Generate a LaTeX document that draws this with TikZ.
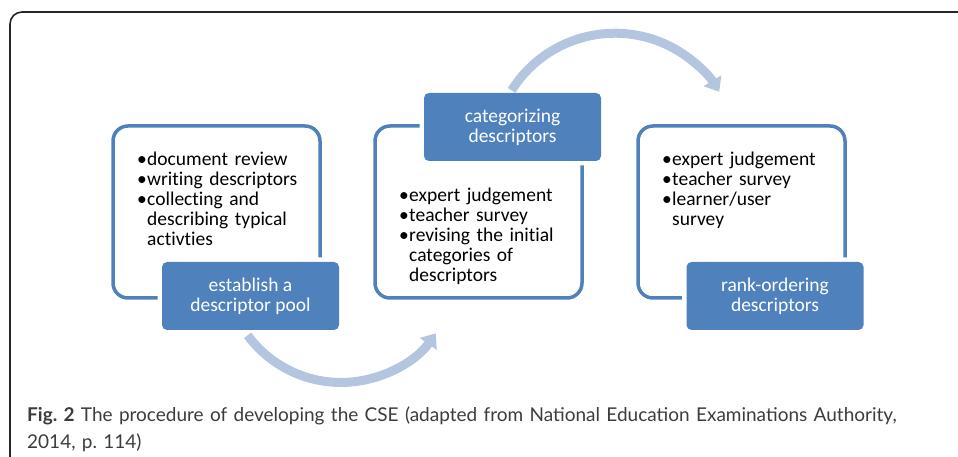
\documentclass[tikz,border=0pt]{standalone}
\usepackage{fontspec}
\setmainfont[Ligatures=NoCommon]{Carlito}
\newfontfamily\capfont{Lato}
\usetikzlibrary{arrows.meta}

\definecolor{smartblue}{RGB}{79,129,189}
\definecolor{arcblue}{RGB}{180,197,224}
\definecolor{capgray}{RGB}{60,60,60}

% one bullet line, wrapped lines hang under the text
\newcommand{\itm}[1]{\hangindent=10pt\hangafter=1\noindent\makebox[10pt][l]{\textbullet}#1\par}

\begin{document}
\frenchspacing
\begin{tikzpicture}[x=1pt,y=1pt,
  panel/.style={rectangle, draw=smartblue, line width=3.5pt, rounded corners=15pt, minimum width=207pt, minimum height=172pt},
  stage/.style={rectangle, fill=smartblue, preaction={draw=white, line width=9pt}, rounded corners=5pt, text=white, align=center, minimum width=177pt, minimum height=68pt, font=\fontsize{19.5}{20}\selectfont},
  notes/.style={anchor=north west, inner sep=0pt, text width=190pt, align=left, font=\fontsize{19.5}{20}\selectfont},
  loop/.style={arcblue, line width=9pt, -{Triangle[width=20pt,length=13pt]}}]
\useasboundingbox (0,0) rectangle (958,457);

% outer frame, open to the right and below
\draw [line width=1.6pt, black!85, rounded corners=12pt] (10,0) -- (10,445) -- (970,445);

\draw (216.5,245) node[panel] (box1) {};
\draw (478.5,245) node[panel] (box2) {};
\draw (741.5,245) node[panel] (box3) {};

\draw (250.5,161) node[stage] (pool) {establish a\\descriptor pool};
\draw (512.5,330) node[stage] (cat) {categorizing\\descriptors};
\draw (775,161) node[stage] (rank) {rank-ordering\\descriptors};

\draw (137,305.5) node[notes] (list1) {\itm{document review}\itm{writing descriptors}\itm{collecting and\newline describing typical\newline activties}};
\draw (399,269) node[notes] (list2) {\itm{expert judgement}\itm{teacher survey}\itm{revising the initial\newline categories of\newline descriptors}};
\draw (662,305.5) node[notes] (list3) {\itm{expert judgement}\itm{teacher survey}\itm{learner/user\newline survey}};

% curved arrows between the stages
\coordinate (loopA) at (247.6,121.7);
\coordinate (loopB) at (511.6,366.6);
\draw [loop] (loopA) arc[start angle=216.4, end angle=324.8, radius=116pt];
\draw [loop] (loopB) arc[start angle=147.9, end angle=31.3, radius=122pt];

\draw (27,50) node[anchor=north west, inner sep=0pt, text width=920pt, align=left, text=capgray, font=\capfont\fontsize{19}{27}\selectfont] (caption) {\textbf{Fig. 2} The procedure of developing the CSE (adapted from National Education Examinations Authority,\\2014, p. 114)};
\end{tikzpicture}
\end{document}
